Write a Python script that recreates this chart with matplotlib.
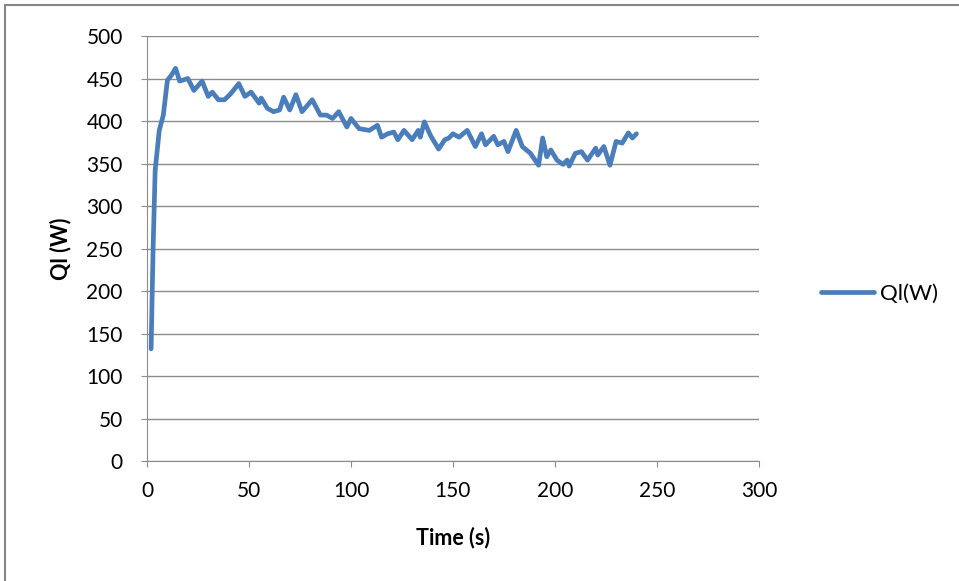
import matplotlib.pyplot as plt
from matplotlib.lines import Line2D

# heat loss readings over the run
time_s = [2, 3, 4, 6, 8, 10, 12, 14, 16, 20, 23, 27, 30, 32, 35, 38, 41, 45, 48, 51,
          55, 56, 59, 62, 65, 67, 70, 73, 76, 81, 85, 88, 91, 94, 98, 100, 104, 109,
          113, 115, 118, 121, 123, 126, 130, 133, 134, 136, 139, 143, 146, 148, 150,
          153, 157, 161, 164, 166, 170, 172, 175, 177, 181, 184, 188, 192, 194, 196,
          198, 201, 204, 206, 207, 210, 213, 216, 220, 221, 224, 227, 230, 233, 236,
          238, 240]
ql_w = [132, 252, 342, 389, 407, 448, 454, 462, 447, 450, 436, 447, 429, 434, 425, 425,
        432, 444, 429, 434, 421, 427, 415, 411, 413, 428, 413, 431, 411, 425, 407, 407,
        403, 411, 393, 403, 391, 389, 395, 381, 385, 387, 378, 389, 378, 389, 381, 399,
        383, 367, 378, 380, 385, 381, 389, 370, 385, 372, 382, 372, 376, 364, 389, 370,
        362, 348, 380, 358, 366, 354, 349, 354, 347, 362, 364, 354, 368, 360, 370, 348,
        376, 374, 386, 380, 385]

x_ticks = [0, 50, 100, 150, 200, 250, 300]
y_ticks = [0, 50, 100, 150, 200, 250, 300, 350, 400, 450, 500]

plt.rcParams['font.family'] = ['Lato', 'DejaVu Sans']

fig = plt.figure(figsize=(9.59, 5.81), dpi=100)
ax = fig.add_axes([0.1533, 0.2065, 0.638, 0.7315])

ax.plot(time_s, ql_w, color='#4a7ebb', linewidth=3.4, label='Ql(W)',
        solid_joinstyle='round', solid_capstyle='round')

ax.set_xlim(0, 300)
ax.set_ylim(0, 500)
ax.set_xticks(x_ticks)
ax.set_yticks(y_ticks)
ax.grid(axis='y', color='#8c8c8c', linewidth=1)
ax.set_axisbelow(True)
for side in ['top', 'right']:
    ax.spines[side].set_visible(False)
for side in ['left', 'bottom']:
    ax.spines[side].set_color('#8c8c8c')
ax.tick_params(colors='#8c8c8c', labelcolor='black', labelsize=15, length=4.5)
ax.tick_params(axis='x', pad=10)
ax.tick_params(axis='y', pad=13)

ax.set_xlabel('Time (s)', fontsize=15.5, fontweight='bold', labelpad=18)
ax.set_ylabel('Ql (W)', fontsize=15.5, fontweight='bold', labelpad=11)

fig.legend(loc='center left', bbox_to_anchor=(0.835, 0.494), frameon=False,
           fontsize=16, handlelength=2.4, handletextpad=0.27)

# outer chart border (top and left edges)
fig.add_artist(Line2D([5 / 959, 1], [1 - 5 / 581, 1 - 5 / 581], color='#868686', linewidth=1.5))
fig.add_artist(Line2D([5 / 959, 5 / 959], [0, 1 - 5 / 581], color='#868686', linewidth=1.5))

fig.savefig('out.png', dpi=100)
